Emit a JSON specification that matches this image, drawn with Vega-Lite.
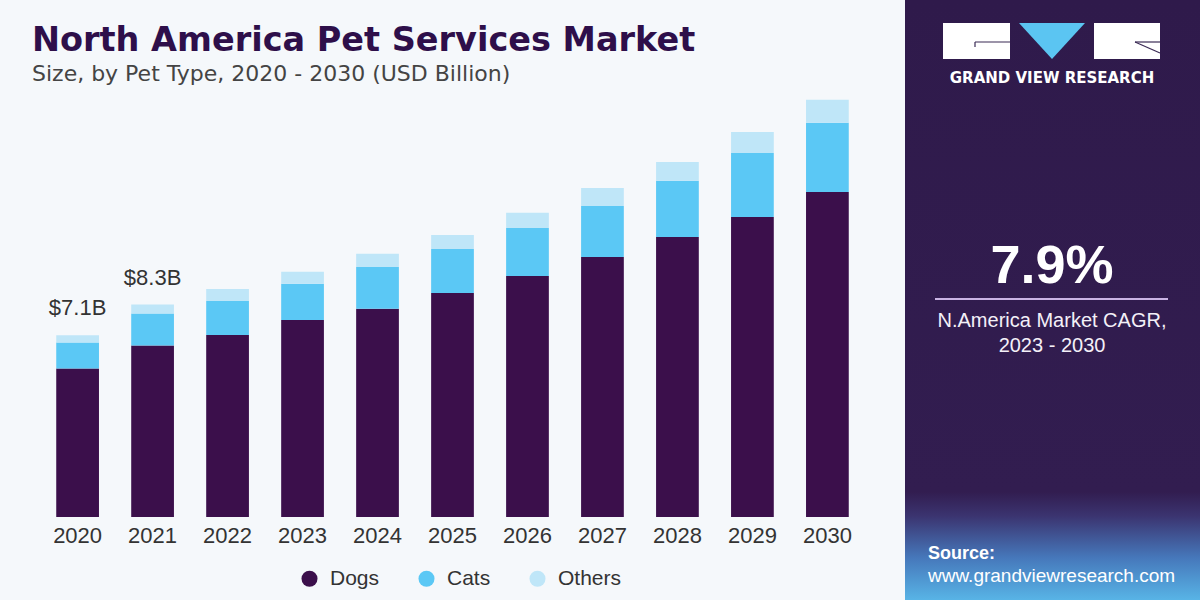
{
  "$schema": "https://vega.github.io/schema/vega-lite/v6.json",
  "background": "#f5f8fb",
  "padding": 0,
  "spacing": 0,
  "bounds": "flush",
  "config": {"view": {"stroke": null}, "font": "Liberation Sans"},
  "datasets": {
    "market": [
      {"year": 2020, "type": "Dogs", "value": 5.80}, {"year": 2020, "type": "Cats", "value": 1.02}, {"year": 2020, "type": "Others", "value": 0.28},
      {"year": 2021, "type": "Dogs", "value": 6.70}, {"year": 2021, "type": "Cats", "value": 1.25}, {"year": 2021, "type": "Others", "value": 0.35},
      {"year": 2022, "type": "Dogs", "value": 7.11}, {"year": 2022, "type": "Cats", "value": 1.33}, {"year": 2022, "type": "Others", "value": 0.47},
      {"year": 2023, "type": "Dogs", "value": 7.70}, {"year": 2023, "type": "Cats", "value": 1.41}, {"year": 2023, "type": "Others", "value": 0.47},
      {"year": 2024, "type": "Dogs", "value": 8.13}, {"year": 2024, "type": "Cats", "value": 1.64}, {"year": 2024, "type": "Others", "value": 0.51},
      {"year": 2025, "type": "Dogs", "value": 8.75}, {"year": 2025, "type": "Cats", "value": 1.72}, {"year": 2025, "type": "Others", "value": 0.55},
      {"year": 2026, "type": "Dogs", "value": 9.41}, {"year": 2026, "type": "Cats", "value": 1.88}, {"year": 2026, "type": "Others", "value": 0.59},
      {"year": 2027, "type": "Dogs", "value": 10.16}, {"year": 2027, "type": "Cats", "value": 1.99}, {"year": 2027, "type": "Others", "value": 0.70},
      {"year": 2028, "type": "Dogs", "value": 10.94}, {"year": 2028, "type": "Cats", "value": 2.19}, {"year": 2028, "type": "Others", "value": 0.74},
      {"year": 2029, "type": "Dogs", "value": 11.72}, {"year": 2029, "type": "Cats", "value": 2.50}, {"year": 2029, "type": "Others", "value": 0.82},
      {"year": 2030, "type": "Dogs", "value": 12.70}, {"year": 2030, "type": "Cats", "value": 2.70}, {"year": 2030, "type": "Others", "value": 0.90}
    ]
  },
  "hconcat": [
    {
      "width": 905,
      "height": 600,
      "title": {
        "text": "North America Pet Services Market",
        "subtitle": "Size, by Pet Type, 2020 - 2030 (USD Billion)",
        "orient": "top",
        "anchor": "start",
        "frame": "group",
        "offset": -86,
        "dx": 32,
        "font": "DejaVu Sans",
        "fontSize": 33.5,
        "fontWeight": "bold",
        "color": "#2e0f4a",
        "subtitleFont": "DejaVu Sans",
        "subtitleFontSize": 22,
        "subtitleColor": "#444444",
        "subtitlePadding": 6
      },
      "data": {"name": "market"},
      "layer": [
        {
          "transform": [
            {"calculate": "indexof(['Dogs', 'Cats', 'Others'], datum.type)", "as": "stack_rank"}
          ],
          "mark": {"type": "bar"},
          "encoding": {
            "x": {
              "field": "year", "type": "ordinal",
              "scale": {"paddingInner": 0.43, "paddingOuter": 0.75},
              "axis": {"title": null, "orient": "bottom", "offset": -83, "domain": false, "ticks": false, "grid": false, "labelAngle": 0, "labelPadding": 8, "labelFontSize": 22, "labelColor": "#333333"}
            },
            "y": {
              "field": "value", "type": "quantitative", "stack": "zero",
              "scale": {"domain": [-3.242, 20.195], "nice": false, "zero": false},
              "axis": null
            },
            "order": {"field": "stack_rank", "type": "quantitative", "sort": "ascending"},
            "color": {
              "field": "type", "type": "nominal",
              "sort": ["Dogs", "Cats", "Others"],
              "scale": {"domain": ["Dogs", "Cats", "Others"], "range": ["#3b0f4b", "#5bc8f5", "#bfe6f8"]},
              "legend": {
                "title": null, "orient": "none", "legendX": 299, "legendY": 568,
                "direction": "horizontal", "symbolType": "circle", "symbolSize": 256,
                "symbolStrokeWidth": 0, "symbolOpacity": 1, "labelFontSize": 21, "labelColor": "#333333",
                "labelOffset": 10, "columnPadding": 36, "padding": 0
              }
            }
          }
        },
        {
          "transform": [
            {"filter": "datum.year <= 2021"},
            {"aggregate": [{"op": "sum", "field": "value", "as": "total"}], "groupby": ["year"]},
            {"calculate": "'$' + format(datum.total, '.1f') + 'B'", "as": "label"}
          ],
          "mark": {"type": "text", "baseline": "alphabetic", "dy": -20, "fontSize": 22, "color": "#333333"},
          "encoding": {
            "x": {"field": "year", "type": "ordinal"},
            "y": {"field": "total", "type": "quantitative"},
            "text": {"field": "label"}
          }
        }
      ]
    },
    {
      "width": 295,
      "height": 600,
      "view": {
        "stroke": null,
        "fill": {
          "gradient": "linear", "x1": 0, "y1": 0, "x2": 0, "y2": 1,
          "stops": [
            {"offset": 0, "color": "#2f1a4b"},
            {"offset": 0.82, "color": "#321d50"},
            {"offset": 0.86, "color": "#3b3470"},
            {"offset": 0.93, "color": "#4678bb"},
            {"offset": 1, "color": "#58b4e6"}
          ]
        }
      },
      "data": {"values": [{}]},
      "layer": [
        {"mark": {"type": "rect", "x": 38, "x2": 105, "y": 23, "y2": 59, "color": "#ffffff"}, "encoding": {}},
        {"mark": {"type": "rect", "x": 189, "x2": 255, "y": 23, "y2": 59, "color": "#ffffff"}, "encoding": {}},
        {"mark": {"type": "point", "shape": "M-1,-0.545L1,-0.545L0,0.545Z", "x": 147, "y": 41, "size": 4356, "filled": true, "color": "#5bc5f2", "opacity": 1}, "encoding": {}},
        {"mark": {"type": "rule", "color": "#3a2a55", "strokeWidth": 1.2}, "encoding": {"x": {"value": 70}, "x2": {"value": 105}, "y": {"value": 42}, "y2": {"value": 42}}},
        {"mark": {"type": "rule", "color": "#3a2a55", "strokeWidth": 1.2}, "encoding": {"x": {"value": 70}, "x2": {"value": 70}, "y": {"value": 42}, "y2": {"value": 47}}},
        {"mark": {"type": "rule", "color": "#3a2a55", "strokeWidth": 1.2}, "encoding": {"x": {"value": 230}, "x2": {"value": 255}, "y": {"value": 42}, "y2": {"value": 42}}},
        {"mark": {"type": "rule", "color": "#3a2a55", "strokeWidth": 1.2}, "encoding": {"x": {"value": 230}, "x2": {"value": 255}, "y": {"value": 42}, "y2": {"value": 53}}},
        {"mark": {"type": "text", "text": "GRAND VIEW RESEARCH", "x": 147, "y": 83, "align": "center", "baseline": "alphabetic", "font": "DejaVu Sans", "fontWeight": "bold", "fontSize": 15, "color": "#ffffff"}, "encoding": {}},
        {"mark": {"type": "text", "text": "7.9%", "x": 147, "y": 283, "align": "center", "baseline": "alphabetic", "fontWeight": "bold", "fontSize": 54, "color": "#ffffff"}, "encoding": {}},
        {"mark": {"type": "rule", "color": "#c9b3e3", "strokeWidth": 2}, "encoding": {"x": {"value": 30}, "x2": {"value": 263}, "y": {"value": 299}, "y2": {"value": 299}}},
        {"mark": {"type": "text", "text": ["N.America Market CAGR,", "2023 - 2030"], "lineHeight": 25, "x": 147, "y": 327, "align": "center", "baseline": "alphabetic", "fontSize": 20, "color": "#f4f0f8"}, "encoding": {}},
        {"mark": {"type": "text", "text": "Source:", "x": 23, "y": 559, "align": "left", "baseline": "alphabetic", "fontWeight": "bold", "fontSize": 18, "color": "#ffffff"}, "encoding": {}},
        {"mark": {"type": "text", "text": "www.grandviewresearch.com", "x": 23, "y": 582, "align": "left", "baseline": "alphabetic", "fontSize": 19, "color": "#ffffff"}, "encoding": {}}
      ]
    }
  ]
}
